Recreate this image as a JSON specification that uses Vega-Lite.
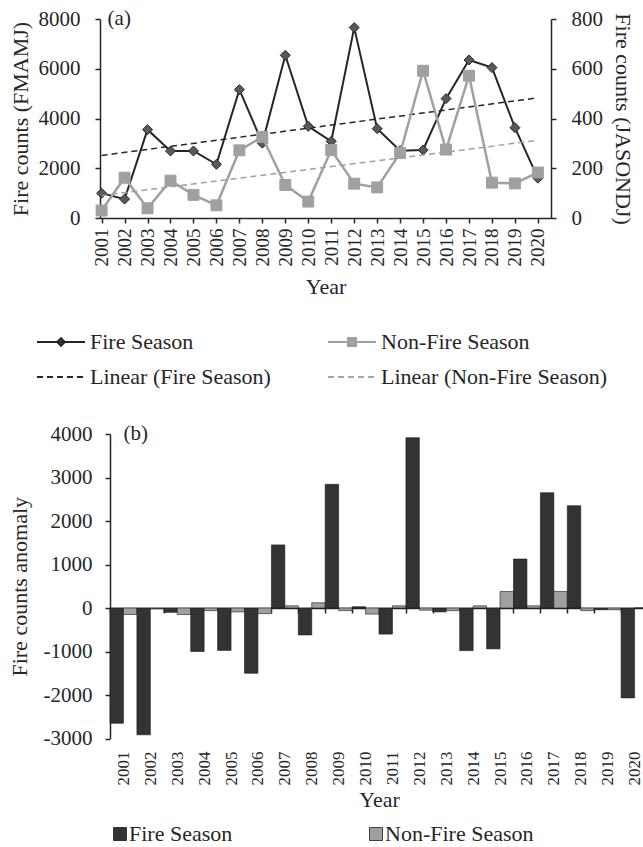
{
  "$schema": "https://vega.github.io/schema/vega-lite/v6.json",
  "padding": {"left": 8, "top": 8, "right": 0, "bottom": 0},
  "background": "white",
  "config": {
    "font": "Liberation Serif",
    "view": {"stroke": null},
    "axis": {"grid": false, "domainColor": "#262626", "tickColor": "#262626", "domainWidth": 1.5, "tickWidth": 1.5, "labelColor": "#262626", "titleColor": "#262626", "titleFontWeight": "normal", "labelFont": "Liberation Serif", "titleFont": "Liberation Serif"},
    "legend": {"labelFont": "Liberation Serif", "labelColor": "#262626"},
    "text": {"font": "Liberation Serif"}
  },
  "datasets": {
    "annual": [
      {"year": 2001, "series": "Fire Season", "value": 995}, {"year": 2001, "series": "Non-Fire Season", "value": 30},
      {"year": 2002, "series": "Fire Season", "value": 760}, {"year": 2002, "series": "Non-Fire Season", "value": 162},
      {"year": 2003, "series": "Fire Season", "value": 3552}, {"year": 2003, "series": "Non-Fire Season", "value": 39},
      {"year": 2004, "series": "Fire Season", "value": 2694}, {"year": 2004, "series": "Non-Fire Season", "value": 150},
      {"year": 2005, "series": "Fire Season", "value": 2694}, {"year": 2005, "series": "Non-Fire Season", "value": 93},
      {"year": 2006, "series": "Fire Season", "value": 2158}, {"year": 2006, "series": "Non-Fire Season", "value": 51},
      {"year": 2007, "series": "Fire Season", "value": 5160}, {"year": 2007, "series": "Non-Fire Season", "value": 272},
      {"year": 2008, "series": "Fire Season", "value": 3010}, {"year": 2008, "series": "Non-Fire Season", "value": 326},
      {"year": 2009, "series": "Fire Season", "value": 6541}, {"year": 2009, "series": "Non-Fire Season", "value": 133},
      {"year": 2010, "series": "Fire Season", "value": 3686}, {"year": 2010, "series": "Non-Fire Season", "value": 66},
      {"year": 2011, "series": "Fire Season", "value": 3083}, {"year": 2011, "series": "Non-Fire Season", "value": 273},
      {"year": 2012, "series": "Fire Season", "value": 7654}, {"year": 2012, "series": "Non-Fire Season", "value": 138},
      {"year": 2013, "series": "Fire Season", "value": 3592}, {"year": 2013, "series": "Non-Fire Season", "value": 123},
      {"year": 2014, "series": "Fire Season", "value": 2708}, {"year": 2014, "series": "Non-Fire Season", "value": 261},
      {"year": 2015, "series": "Fire Season", "value": 2735}, {"year": 2015, "series": "Non-Fire Season", "value": 592},
      {"year": 2016, "series": "Fire Season", "value": 4799}, {"year": 2016, "series": "Non-Fire Season", "value": 275},
      {"year": 2017, "series": "Fire Season", "value": 6354}, {"year": 2017, "series": "Non-Fire Season", "value": 572},
      {"year": 2018, "series": "Fire Season", "value": 6046}, {"year": 2018, "series": "Non-Fire Season", "value": 142},
      {"year": 2019, "series": "Fire Season", "value": 3633}, {"year": 2019, "series": "Non-Fire Season", "value": 139},
      {"year": 2020, "series": "Fire Season", "value": 1600}, {"year": 2020, "series": "Non-Fire Season", "value": 183}
    ],
    "anomaly": [
      {"year": "2001", "season": "Fire Season", "anomaly": -2650}, {"year": "2001", "season": "Non-Fire Season", "anomaly": -150},
      {"year": "2002", "season": "Fire Season", "anomaly": -2915}, {"year": "2002", "season": "Non-Fire Season", "anomaly": -15},
      {"year": "2003", "season": "Fire Season", "anomaly": -100}, {"year": "2003", "season": "Non-Fire Season", "anomaly": -150},
      {"year": "2004", "season": "Fire Season", "anomaly": -1000}, {"year": "2004", "season": "Non-Fire Season", "anomaly": -60},
      {"year": "2005", "season": "Fire Season", "anomaly": -975}, {"year": "2005", "season": "Non-Fire Season", "anomaly": -90},
      {"year": "2006", "season": "Fire Season", "anomaly": -1500}, {"year": "2006", "season": "Non-Fire Season", "anomaly": -130},
      {"year": "2007", "season": "Fire Season", "anomaly": 1450}, {"year": "2007", "season": "Non-Fire Season", "anomaly": 50},
      {"year": "2008", "season": "Fire Season", "anomaly": -620}, {"year": "2008", "season": "Non-Fire Season", "anomaly": 120},
      {"year": "2009", "season": "Fire Season", "anomaly": 2843}, {"year": "2009", "season": "Non-Fire Season", "anomaly": -60},
      {"year": "2010", "season": "Fire Season", "anomaly": 30}, {"year": "2010", "season": "Non-Fire Season", "anomaly": -140},
      {"year": "2011", "season": "Fire Season", "anomaly": -600}, {"year": "2011", "season": "Non-Fire Season", "anomaly": 50},
      {"year": "2012", "season": "Fire Season", "anomaly": 3915}, {"year": "2012", "season": "Non-Fire Season", "anomaly": -50},
      {"year": "2013", "season": "Fire Season", "anomaly": -90}, {"year": "2013", "season": "Non-Fire Season", "anomaly": -60},
      {"year": "2014", "season": "Fire Season", "anomaly": -980}, {"year": "2014", "season": "Non-Fire Season", "anomaly": 50},
      {"year": "2015", "season": "Fire Season", "anomaly": -940}, {"year": "2015", "season": "Non-Fire Season", "anomaly": 380},
      {"year": "2016", "season": "Fire Season", "anomaly": 1126}, {"year": "2016", "season": "Non-Fire Season", "anomaly": 50},
      {"year": "2017", "season": "Fire Season", "anomaly": 2650}, {"year": "2017", "season": "Non-Fire Season", "anomaly": 380},
      {"year": "2018", "season": "Fire Season", "anomaly": 2352}, {"year": "2018", "season": "Non-Fire Season", "anomaly": -60},
      {"year": "2019", "season": "Fire Season", "anomaly": -40}, {"year": "2019", "season": "Non-Fire Season", "anomaly": -40},
      {"year": "2020", "season": "Fire Season", "anomaly": -2067}, {"year": "2020", "season": "Non-Fire Season", "anomaly": 5}
    ]
  },
  "concat": [
    {
      "width": 451,
      "height": 199,
      "data": {"name": "annual"},
      "encoding": {
        "x": {
          "field": "year", "type": "quantitative",
          "scale": {"domain": [2000.93, 2020.57], "nice": false, "zero": false},
          "axis": {"title": "Year", "values": [2001,2002,2003,2004,2005,2006,2007,2008,2009,2010,2011,2012,2013,2014,2015,2016,2017,2018,2019,2020], "format": "d", "labelAngle": -90, "labelFontSize": 19, "tickSize": 5, "labelPadding": 5, "titleFontSize": 22, "titlePadding": 10, "labelOverlap": false, "labelFlush": false}
        },
        "color": {
          "field": "series", "type": "nominal",
          "scale": {"domain": ["Fire Season", "Non-Fire Season", "Linear (Fire Season)", "Linear (Non-Fire Season)"], "range": ["#262626", "#a0a0a0", "#262626", "#a6a6a6"]},
          "legend": {
            "title": null, "orient": "none", "direction": "horizontal", "legendX": -54, "legendY": 308, "columns": 2, "columnPadding": 53, "rowPadding": 9,
            "symbolSize": 784, "symbolStrokeWidth": 2, "labelFontSize": 22, "labelOffset": 14, "labelLimit": 400,
            "encoding": {
              "symbols": {
                "shape": {"value": {"expr": "datum.value === 'Fire Season' ? 'M-1.714,0H1.714M0,-0.27L0.27,0L0,0.27L-0.27,0Z' : datum.value === 'Non-Fire Season' ? 'M-1.714,0H1.714M-0.29,-0.29H0.29V0.29H-0.29Z' : 'M-1.714,0H1.714'"}},
                "fill": {"value": {"expr": "datum.value === 'Fire Season' ? '#595959' : datum.value === 'Non-Fire Season' ? '#a0a0a0' : 'transparent'"}},
                "stroke": {"value": {"expr": "indexof(datum.value, 'Non-Fire') >= 0 ? '#a0a0a0' : '#262626'"}},
                "strokeDash": {"value": {"expr": "indexof(datum.value, 'Linear') === 0 ? [6,4] : [1,0]"}},
                "strokeWidth": {"value": 2},
                "opacity": {"value": 1}
              }
            }
          }
        }
      },
      "layer": [
        {
          "transform": [{"filter": "datum.series === 'Fire Season'"}],
          "encoding": {
            "y": {"field": "value", "type": "quantitative", "scale": {"domain": [0, 8000], "nice": false},
              "axis": {"title": "Fire counts (FMAMJ)", "values": [0, 2000, 4000, 6000, 8000], "format": "d", "tickSize": 5, "labelPadding": 15, "titlePadding": 6, "labelFontSize": 21, "titleFontSize": 22}}
          },
          "layer": [
            {"mark": {"type": "line", "strokeWidth": 2}},
            {"transform": [{"regression": "value", "on": "year", "groupby": ["series"]}], "mark": {"type": "line", "strokeWidth": 1.5, "strokeDash": [6, 4]}},
            {"mark": {"type": "point", "shape": "diamond", "filled": true, "size": 100, "opacity": 1, "strokeWidth": 1}, "encoding": {"fill": {"value": "#595959"}, "stroke": {"value": "#262626"}}},
            {"transform": [{"filter": "datum.year === 2001"}], "mark": {"type": "text", "text": "(a)", "align": "left", "baseline": "middle", "dx": 6, "fontSize": 21}, "encoding": {"y": {"datum": 8000, "type": "quantitative"}, "color": {"value": "#262626"}}}
          ]
        },
        {
          "transform": [{"filter": "datum.series === 'Non-Fire Season'"}],
          "encoding": {
            "y": {"field": "value", "type": "quantitative", "scale": {"domain": [0, 800], "nice": false},
              "axis": {"orient": "right", "title": "Fire counts (JASONDJ)", "values": [0, 200, 400, 600, 800], "format": "d", "tickSize": 5, "labelPadding": 15, "titlePadding": 8, "labelFontSize": 21, "titleFontSize": 22}}
          },
          "layer": [
            {"mark": {"type": "line", "strokeWidth": 2.5}},
            {"transform": [{"regression": "value", "on": "year", "groupby": ["series"]}], "mark": {"type": "line", "strokeWidth": 1.5, "strokeDash": [6, 4]}},
            {"mark": {"type": "point", "shape": "square", "filled": true, "size": 120, "opacity": 1, "strokeWidth": 1}, "encoding": {"fill": {"value": "#a0a0a0"}, "stroke": {"value": "#a0a0a0"}}}
          ]
        }
      ],
      "resolve": {"scale": {"y": "independent"}}
    },
    {
      "width": 548,
      "height": 304.5,
      "data": {"name": "anomaly"},
      "layer": [
        {
          "mark": {"type": "bar", "stroke": "#1a1a1a", "strokeWidth": 0.6},
          "encoding": {
            "x": {"field": "year", "type": "nominal", "scale": {"paddingInner": 0, "paddingOuter": 0, "range": [10, 548]},
              "axis": {"title": "Year", "labelAngle": -90, "labelFontSize": 17, "offset": -130.5, "tickSize": 5, "tickBand": "extent", "labelPadding": 138, "titlePadding": 4, "titleFontSize": 22}},
            "xOffset": {"field": "season", "type": "nominal", "scale": {"domain": ["Fire Season", "Non-Fire Season"], "paddingInner": 0, "paddingOuter": 0}},
            "y": {"field": "anomaly", "type": "quantitative", "scale": {"domain": [-3000, 4000], "nice": false},
              "axis": {"title": "Fire counts anomaly", "offset": -10, "values": [-3000, -2000, -1000, 0, 1000, 2000, 3000, 4000], "labelExpr": "'' + datum.value", "tickSize": 5, "labelPadding": 13, "titlePadding": 12, "labelFontSize": 21, "titleFontSize": 22}},
            "color": {"field": "season", "type": "nominal",
              "scale": {"domain": ["Fire Season", "Non-Fire Season"], "range": ["#333333", "#a0a0a0"]},
              "legend": {"title": null, "orient": "none", "direction": "horizontal", "legendX": 9, "legendY": 389, "columns": 2, "columnPadding": 132, "symbolType": "square", "symbolSize": 169, "symbolStrokeColor": "#1a1a1a", "symbolStrokeWidth": 0.8, "symbolOpacity": 1, "labelFontSize": 22, "labelOffset": -2, "labelLimit": 400}}
          }
        },
        {
          "transform": [{"filter": "datum.year === '2001' && datum.season === 'Fire Season'"}],
          "mark": {"type": "text", "text": "(b)", "align": "left", "baseline": "middle", "fontSize": 21, "color": "#262626"},
          "encoding": {"x": {"field": "year", "type": "nominal"}, "y": {"datum": 4000, "type": "quantitative"}}
        }
      ]
    }
  ],
  "columns": 1,
  "spacing": 35,
  "resolve": {"scale": {"color": "independent"}}
}
